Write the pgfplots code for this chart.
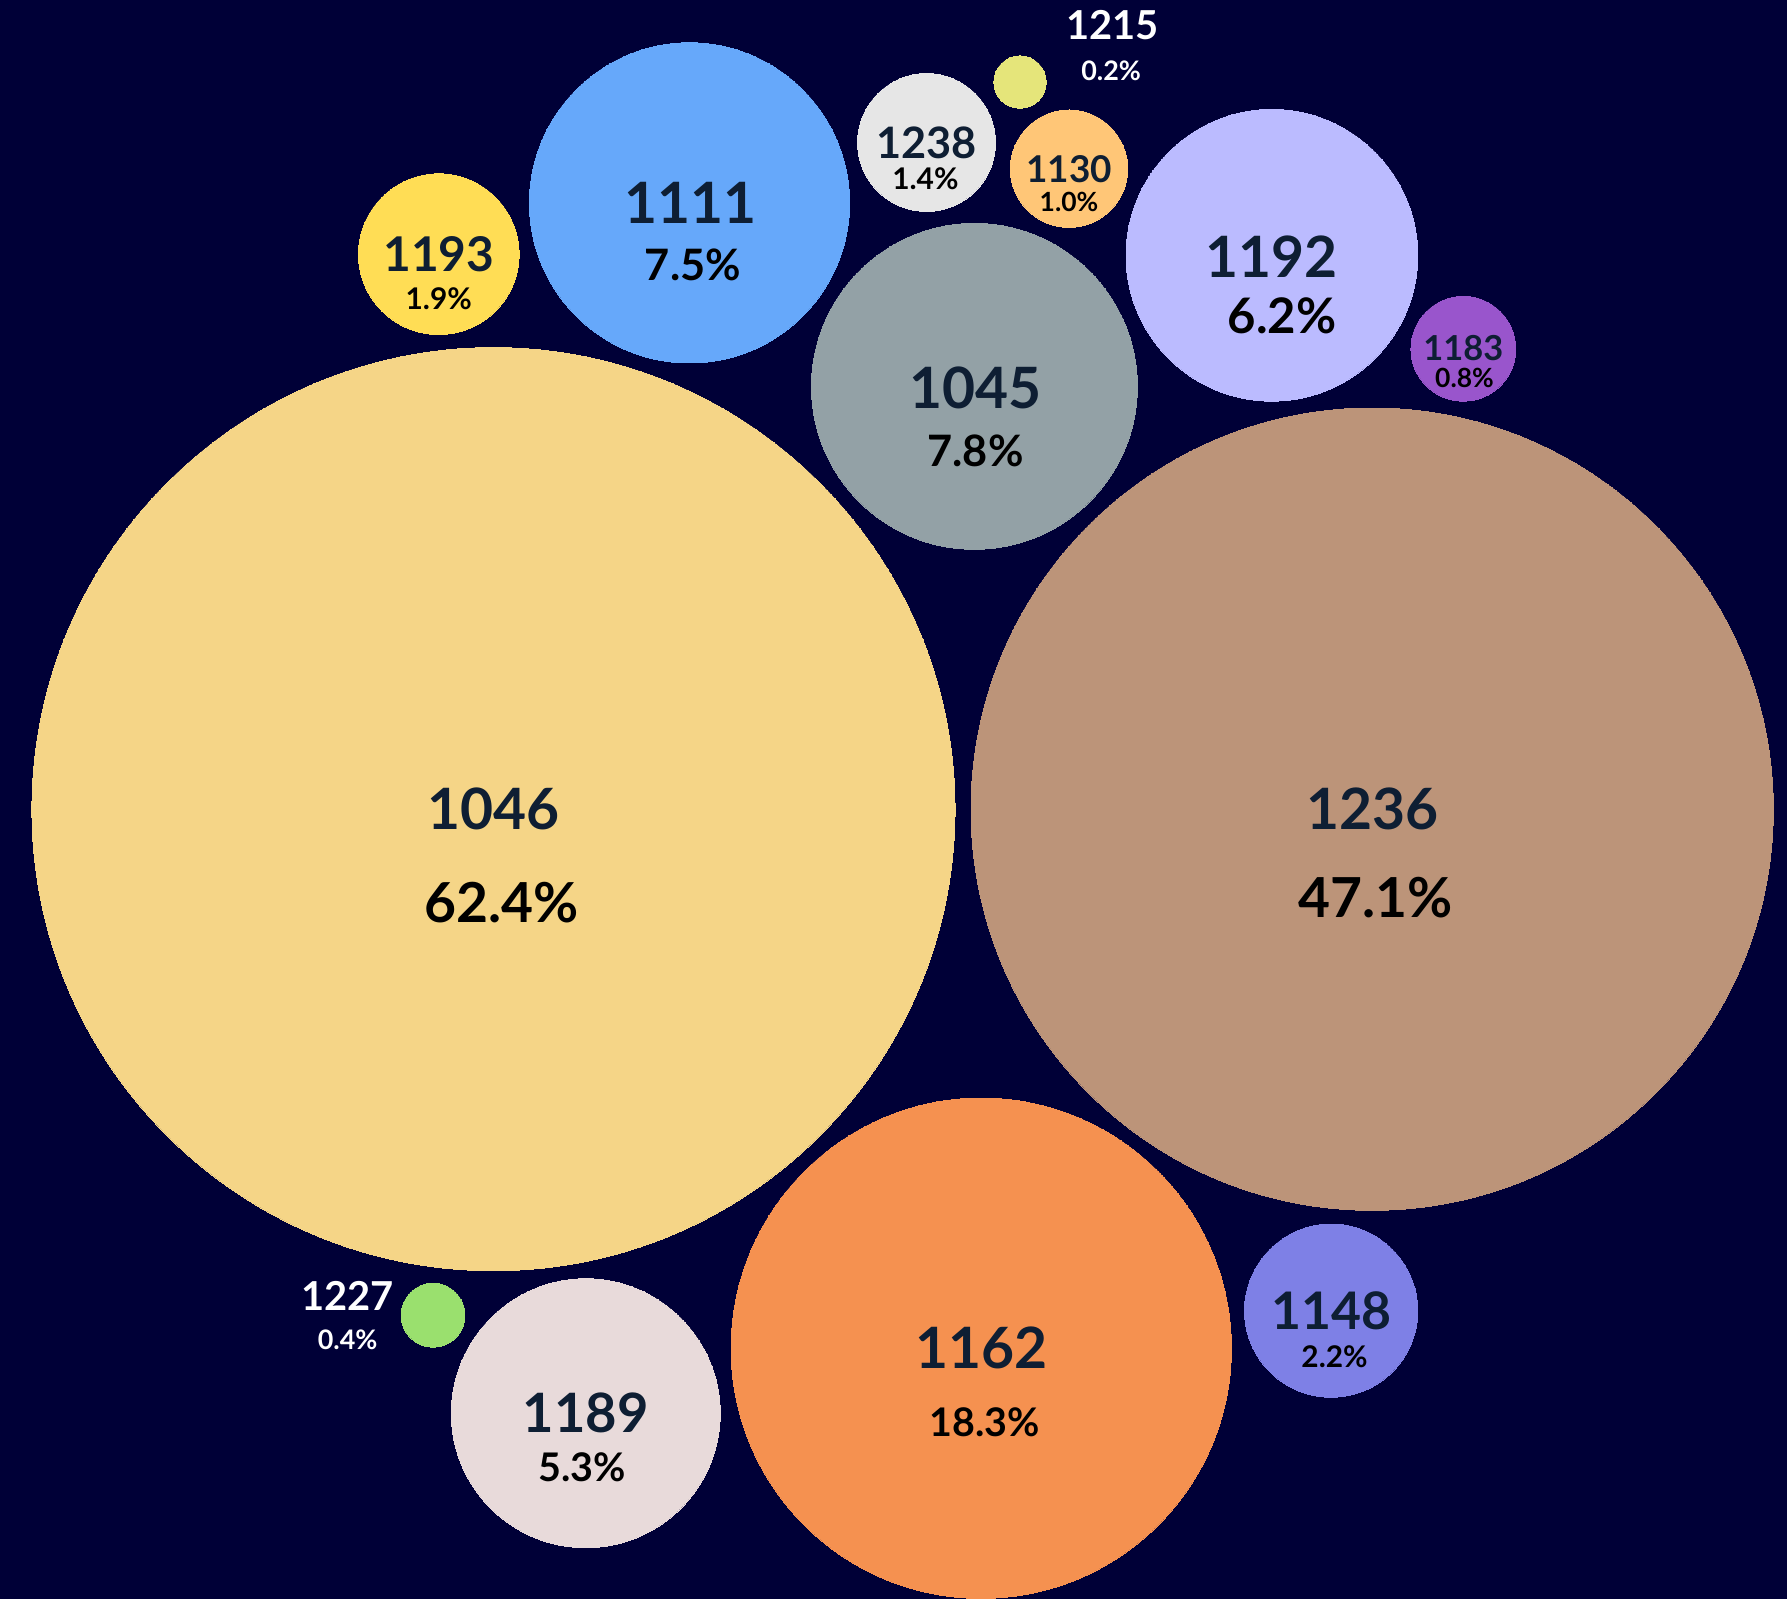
\documentclass[border=0pt]{standalone}
\usepackage{pgfplots}
\pgfplotsset{compat=1.18}
\usepackage{fontspec}
\setmainfont{Lato}
\definecolor{bg}{HTML}{000037}
\definecolor{numc}{HTML}{0E1E33}
\definecolor{cA}{HTML}{F5D587}
\definecolor{cB}{HTML}{BC9479}
\definecolor{cC}{HTML}{F59150}
\definecolor{cD}{HTML}{E8DADA}
\definecolor{cE}{HTML}{9AE06E}
\definecolor{cF}{HTML}{7E80E6}
\definecolor{cG}{HTML}{93A1A6}
\definecolor{cH}{HTML}{66A8FA}
\definecolor{cI}{HTML}{FFDD55}
\definecolor{cJ}{HTML}{E6E6E6}
\definecolor{cK}{HTML}{E5E57A}
\definecolor{cL}{HTML}{FFC677}
\definecolor{cM}{HTML}{BBBBFF}
\definecolor{cN}{HTML}{9955CC}
\newcommand\fs[1]{\fontsize{#1}{#1}\selectfont\bfseries}
\pgfplotsset{
 bub/.style 2 args={only marks, mark=*, mark size=#1, mark options={fill=#2, draw=#2, line width=0pt}},
 lab/.style 2 args={only marks, mark=none, point meta=explicit symbolic, nodes near coords,
   every node near coord/.append style={anchor=center, inner sep=0pt, text=#2, font=#1}},
}
\begin{document}
\begin{tikzpicture}
\begin{axis}[
  width=784pt, height=701.5pt, scale only axis,
  xmin=0, xmax=1568, ymin=0, ymax=1403, y dir=reverse,
  hide axis, clip=true,
]
\addplot[fill=bg, draw=none] coordinates {(0,1403) (1568,1403)} \closedcycle;
% bubbles
\addplot[bub={202.5pt}{cA}] coordinates {(433,710)};
\addplot[bub={176pt}{cB}] coordinates {(1204,710)};
\addplot[bub={109.75pt}{cC}] coordinates {(861,1183)};
\addplot[bub={59pt}{cD}] coordinates {(514,1240)};
\addplot[bub={14pt}{cE}] coordinates {(380,1154)};
\addplot[bub={38pt}{cF}] coordinates {(1168,1150)};
\addplot[bub={71.5pt}{cG}] coordinates {(855,339)};
\addplot[bub={70.25pt}{cH}] coordinates {(605,178)};
\addplot[bub={35.25pt}{cI}] coordinates {(385,223)};
\addplot[bub={30.25pt}{cJ}] coordinates {(813,125)};
\addplot[bub={11.5pt}{cK}] coordinates {(895,72)};
\addplot[bub={25.75pt}{cL}] coordinates {(938,148)};
\addplot[bub={64pt}{cM}] coordinates {(1116,224)};
\addplot[bub={23pt}{cN}] coordinates {(1284,306)};
% labels: numbers
\addplot[lab={\fs{25}}{numc}] coordinates {(433,710)[1046] (1204,710)[1236] (861,1183)[1162] (606,178)[1111] (856,340)[1045] (1116,225)[1192]};
\addplot[lab={\fs{23.8}}{numc}] coordinates {(514,1240)[1189]};
\addplot[lab={\fs{22.7}}{numc}] coordinates {(1168,1150)[1148]};
\addplot[lab={\fs{21}}{numc}] coordinates {(385,223)[1193]};
\addplot[lab={\fs{19}}{numc}] coordinates {(813,125)[1238]};
\addplot[lab={\fs{16.2}}{numc}] coordinates {(938,148)[1130]};
\addplot[lab={\fs{15.1}}{numc}] coordinates {(1284,305)[1183]};
\addplot[lab={\fs{17.5}}{white}] coordinates {(976,22)[1215] (305,1137)[1227]};
% labels: percentages
\addplot[lab={\fs{24.2}}{black}] coordinates {(440,792)[62.4\%] (1207,788)[47.1\%]};
\addplot[lab={\fs{21.5}}{black}] coordinates {(1125,277)[6.2\%]};
\addplot[lab={\fs{19}}{black}] coordinates {(608,232)[7.5\%] (856,396)[7.8\%]};
\addplot[lab={\fs{17.3}}{black}] coordinates {(864,1248)[18.3\%] (511,1287)[5.3\%]};
\addplot[lab={\fs{13.1}}{black}] coordinates {(385,262)[1.9\%] (812,157)[1.4\%] (1171,1190)[2.2\%]};
\addplot[lab={\fs{11.6}}{black}] coordinates {(938,177)[1.0\%] (1285,332)[0.8\%]};
\addplot[lab={\fs{11.8}}{white}] coordinates {(975,62)[0.2\%] (305,1176)[0.4\%]};
\end{axis}
\end{tikzpicture}
\end{document}
